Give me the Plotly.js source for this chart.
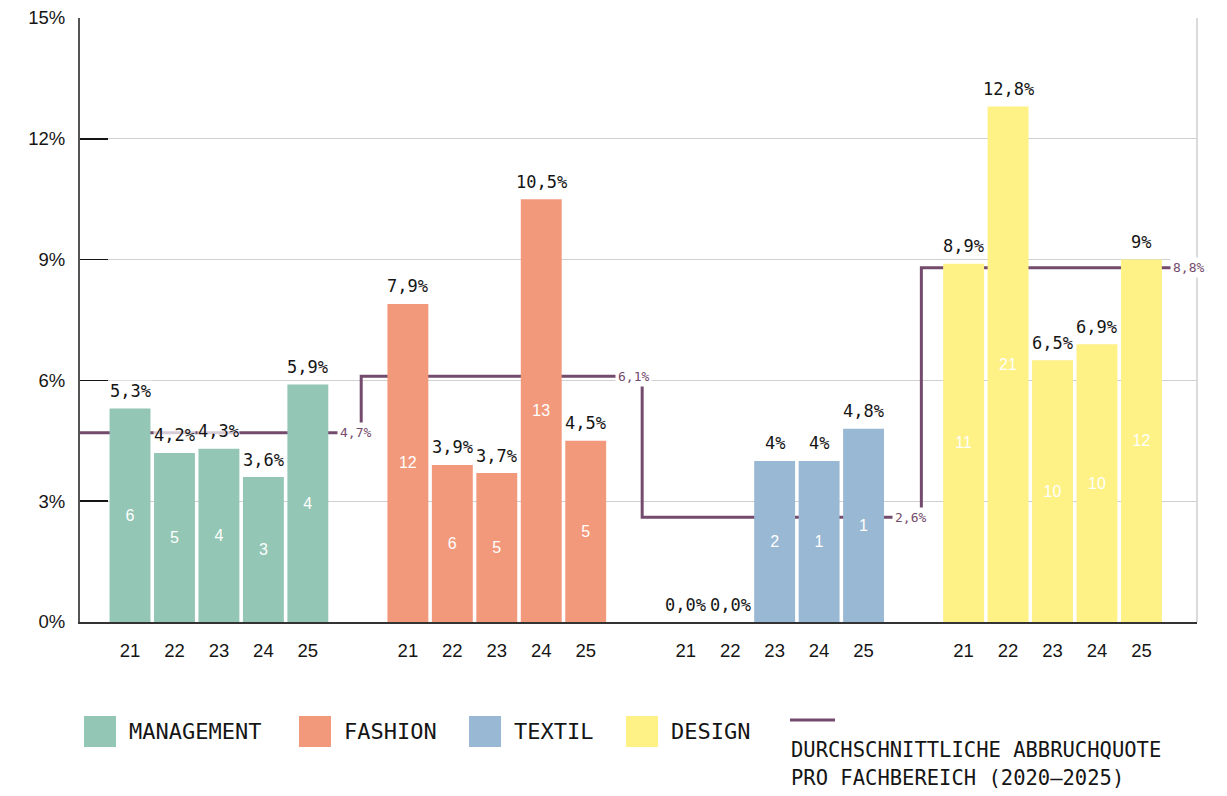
<!DOCTYPE html>
<html><head><meta charset="utf-8">
<script src="https://cdn.plot.ly/plotly-3.0.1.min.js"></script>
<style>html,body{margin:0;padding:0;background:#fff}#chart{width:1227px;height:796px}</style>
</head><body><div id="chart"></div>
<script>
// ---------------- data ----------------
const years = ['21', '22', '23', '24', '25'];
const groups = ['MANAGEMENT', 'FASHION', 'TEXTIL', 'DESIGN'];

const management = [5.3, 4.2, 4.3, 3.6, 5.9];
const fashion    = [7.9, 3.9, 3.7, 10.5, 4.5];
const textil     = [0.0, 0.0, 4.0, 4.0, 4.8];
const design     = [8.9, 12.8, 6.5, 6.9, 9.0];

const managementCounts = [6, 5, 4, 3, 4];
const fashionCounts    = [12, 6, 5, 13, 5];
const textilCounts     = [null, null, 2, 1, 1];
const designCounts     = [11, 21, 10, 10, 12];

const managementLabels = ['5,3%', '4,2%', '4,3%', '3,6%', '5,9%'];
const fashionLabels    = ['7,9%', '3,9%', '3,7%', '10,5%', '4,5%'];
const textilLabels     = ['0,0%', '0,0%', '4%', '4%', '4,8%'];
const designLabels     = ['8,9%', '12,8%', '6,5%', '6,9%', '9%'];

const averages      = [4.7, 6.1, 2.6, 8.8];
const averageLabels = ['4,7%', '6,1%', '2,6%', '8,8%'];

const yTicks      = [0, 3, 6, 9, 12, 15];
const yTickLabels = ['0%', '3%', '6%', '9%', '12%', '15%'];

const lineLegendLines = ['DURCHSCHNITTLICHE ABBRUCHQUOTE', 'PRO FACHBEREICH (2020–2025)'];

// ---------------- styling / layout ----------------
const colors   = ['#93c6b4', '#f3997b', '#99b8d3', '#fef185'];
const avgColor = '#744b6c';
const MONO = '"DejaVu Sans Mono", "Liberation Mono", monospace';
const SANS = '"Liberation Sans", Arial, sans-serif';

const values = [management, fashion, textil, design];
const counts = [managementCounts, fashionCounts, textilCounts, designCounts];
const labels = [managementLabels, fashionLabels, textilLabels, designLabels];

const GROUP_STEP = 6.25;
const XMIN = -1.125, XMAX = 24;
const STEP_OFFSETS = [1.2, 1.27, 1.3];
const LABEL_OFFSET = 0.65;

const posOf = (g, i) => g * GROUP_STEP + i;

const traces = [];

// average step line on base axes (drawn below bars)
const lineX = [XMIN];
const lineY = [averages[0]];
for (let g = 1; g < groups.length; g++) {
  lineX.push(posOf(g - 1, years.length - 1) + STEP_OFFSETS[g - 1]);
  lineY.push(averages[g]);
}
lineX.push(XMAX);
lineY.push(averages[averages.length - 1]);
traces.push({
  type: 'scatter', mode: 'lines', x: lineX, y: lineY,
  line: {shape: 'hv', color: avgColor, width: 3},
  hoverinfo: 'skip', showlegend: false, xaxis: 'x', yaxis: 'y'
});

// bars on overlay axes (drawn above the line)
const annotations = [];
groups.forEach((name, g) => {
  const xs = years.map((_, i) => posOf(g, i));
  traces.push({
    type: 'bar', name: name, x: xs, y: values[g],
    width: 0.92,
    marker: {color: colors[g], line: {width: 0}},
    text: counts[g].map(c => c == null ? '' : String(c)),
    textposition: 'inside', insidetextanchor: 'middle', textangle: 0,
    constraintext: 'none',
    textfont: {family: SANS, size: 16, color: '#ffffff'},
    hoverinfo: 'skip', showlegend: false,
    xaxis: 'x2', yaxis: 'y2'
  });
  xs.forEach((x, i) => {
    annotations.push({
      x: x, y: values[g][i], xref: 'x2', yref: 'y2',
      text: labels[g][i], showarrow: false,
      xanchor: 'center', yanchor: 'middle', yshift: 17.5,
      font: {family: MONO, size: 17, color: '#151515'},
      bgcolor: 'rgba(255,255,255,0.72)', borderpad: 0
    });
  });
  annotations.push({
    x: posOf(g, years.length - 1) + LABEL_OFFSET, y: averages[g],
    xref: 'x', yref: 'y', text: averageLabels[g], showarrow: false,
    xanchor: 'left', yanchor: 'middle',
    font: {family: MONO, size: 13, color: avgColor},
    bgcolor: '#ffffff', borderpad: 2
  });
});

// custom legend (pixel -> paper helpers)
const L = 80, T = 18, PW = 1117, PH = 604;
const px = x => (x - L) / PW;
const py = y => (T + PH - y) / PH;
const legendSquareX = [84, 299, 469, 626];
const shapes = [
  {type: 'line', xref: 'paper', yref: 'paper', x0: 1, x1: 1, y0: 0, y1: 1,
   line: {color: '#cfcfcf', width: 1.5}, layer: 'below'}
];
groups.forEach((name, g) => {
  shapes.push({
    type: 'rect', xref: 'paper', yref: 'paper',
    x0: px(legendSquareX[g]), x1: px(legendSquareX[g] + 32),
    y0: py(747), y1: py(716),
    fillcolor: colors[g], line: {width: 0}
  });
  annotations.push({
    xref: 'paper', yref: 'paper', x: px(legendSquareX[g] + 43), y: py(731.5),
    xanchor: 'left', yanchor: 'middle', showarrow: false, text: name,
    font: {family: MONO, size: 22, color: '#151515'}
  });
});
shapes.push({
  type: 'line', xref: 'paper', yref: 'paper',
  x0: px(790), x1: px(835), y0: py(720), y1: py(720),
  line: {color: avgColor, width: 3}
});
lineLegendLines.forEach((t, k) => {
  annotations.push({
    xref: 'paper', yref: 'paper', x: px(789), y: py(750 + 28 * k),
    xanchor: 'left', yanchor: 'middle', showarrow: false, text: t,
    font: {family: MONO, size: 20.5, color: '#151515'}
  });
});

const tickPositions = [];
const tickTexts = [];
groups.forEach((_, g) => years.forEach((yr, i) => { tickPositions.push(posOf(g, i)); tickTexts.push(yr); }));

const layout = {
  width: 1227, height: 796, autosize: false,
  margin: {l: 80, r: 30, t: 18, b: 174, pad: 0},
  paper_bgcolor: '#ffffff', plot_bgcolor: '#ffffff',
  showlegend: false,
  xaxis: {
    range: [XMIN, XMAX], fixedrange: true,
    tickvals: tickPositions, ticktext: tickTexts,
    ticks: '', showgrid: false, zeroline: false,
    showline: true, linecolor: '#333333', linewidth: 2,
    tickfont: {family: SANS, size: 18.5, color: '#151515'},
    ticklabelstandoff: 11
  },
  yaxis: {
    range: [0, 15], fixedrange: true,
    tickvals: yTicks, ticktext: yTickLabels,
    ticks: 'inside', ticklen: 28, tickwidth: 1.5, tickcolor: '#151515',
    showgrid: true, gridcolor: '#d0d0d0', gridwidth: 1,
    zeroline: false, showline: true, linecolor: '#555555', linewidth: 2,
    tickfont: {family: SANS, size: 18.5, color: '#151515'},
    ticklabelstandoff: 9
  },
  xaxis2: {overlaying: 'x', range: [XMIN, XMAX], visible: false, fixedrange: true},
  yaxis2: {overlaying: 'y', range: [0, 15], visible: false, fixedrange: true},
  shapes: shapes,
  annotations: annotations
};

Plotly.newPlot('chart', traces, layout, {displayModeBar: false, staticPlot: true});
</script>
</body></html>
